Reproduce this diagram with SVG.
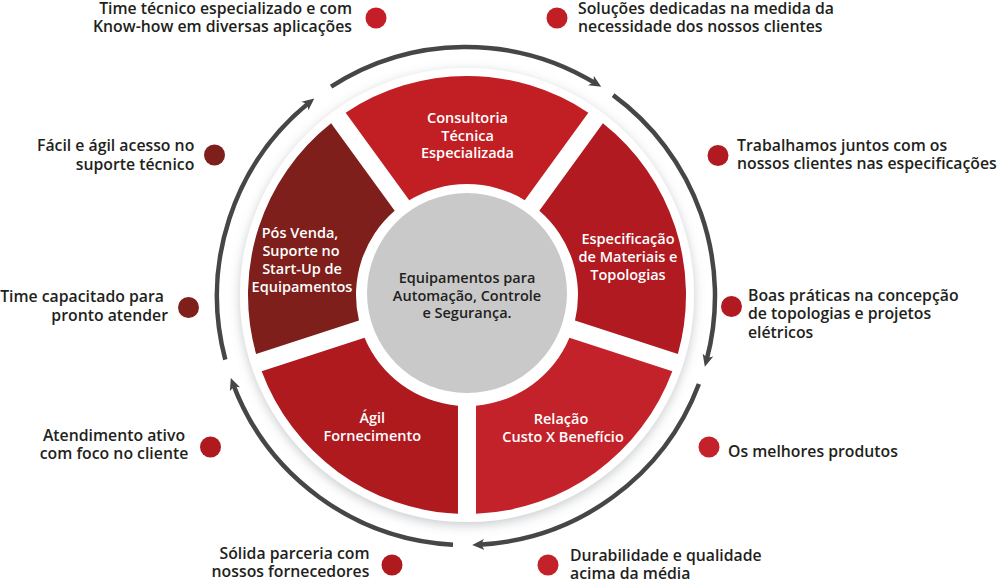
<svg xmlns="http://www.w3.org/2000/svg" xmlns:xlink="http://www.w3.org/1999/xlink" width="998" height="581" viewBox="0 0 998 581">
<style>
.lbl{font-family:"Open Sans","Liberation Sans",sans-serif;font-size:15.8px;font-weight:600;fill:#231f20}
.seg{font-family:"Open Sans","Liberation Sans",sans-serif;font-size:14.5px;font-weight:600;fill:#ffffff;text-anchor:middle}
.ctr{font-family:"Open Sans","Liberation Sans",sans-serif;font-size:14.5px;font-weight:600;fill:#231f20;text-anchor:middle}
.end{text-anchor:end}
.mid{text-anchor:middle}
.arc{fill:none;stroke:#464646;stroke-width:4.5;marker-end:url(#ah)}
</style>
<defs>
<path id="segp" d="M345.67,112.68 A219,219 0 0 1 588.33,112.68 L524.74,200.20 A111,111 0 0 0 409.26,200.20 Z"/>
<marker id="ah" markerUnits="userSpaceOnUse" viewBox="0 0 12 12" refX="6" refY="6" markerWidth="12" markerHeight="12" orient="auto">
<path d="M0,0.5 L12,6 L0,11.5 L3,6 Z" fill="#464646"/>
</marker>
<filter id="sh" x="-20%" y="-20%" width="140%" height="140%">
<feGaussianBlur in="SourceAlpha" stdDeviation="5.5"/>
<feOffset dy="3" result="b"/>
<feFlood flood-color="#7a8088" flood-opacity="0.42"/>
<feComposite in2="b" operator="in"/>
<feMerge><feMergeNode/><feMergeNode in="SourceGraphic"/></feMerge>
</filter>
</defs>
<rect width="998" height="581" fill="#ffffff"/>
<circle cx="467" cy="295" r="227" fill="#ffffff" filter="url(#sh)"/>

<g id="connectors">
<path class="arc" d="M331.1,86.7 A249,249 0 0 1 596.1,83.7"/>
<path class="arc" d="M613.1,95.1 A249,249 0 0 1 706.4,360.9"/>
<path class="arc" d="M698.9,384.0 A249,249 0 0 1 478.2,544.7"/>
<path class="arc" d="M453.0,544.7 A249,249 0 0 1 232.9,383.6"/>
<path class="arc" d="M225.3,359.6 A249,249 0 0 1 309.6,102.2"/>
</g>

<g id="consultoria">
<use xlink:href="#segp" fill="#c11f24"/>
<text class="seg" x="467.5" y="123.3">Consultoria</text>
<text class="seg" x="467.5" y="141">Técnica</text>
<text class="seg" x="467.5" y="158">Especializada</text>
</g>
<g id="especificacao">
<use xlink:href="#segp" fill="#b01a20" transform="rotate(72 467 295)"/>
<text class="seg" x="628" y="244.3">Especificação</text>
<text class="seg" x="628" y="262">de Materiais e</text>
<text class="seg" x="628" y="280">Topologias</text>
</g>
<g id="relacao">
<use xlink:href="#segp" fill="#c3222a" transform="rotate(144 467 295)"/>
<text class="seg" x="561" y="424">Relação</text>
<text class="seg" x="563" y="441.5">Custo X Benefício</text>
</g>
<g id="agil">
<use xlink:href="#segp" fill="#af1a1f" transform="rotate(216 467 295)"/>
<text class="seg" x="372.3" y="423.3">Ágil</text>
<text class="seg" x="372.3" y="441">Fornecimento</text>
</g>
<g id="posvenda">
<use xlink:href="#segp" fill="#7e1f1c" transform="rotate(288 467 295)"/>
<text class="seg" x="300" y="238">Pós Venda,</text>
<text class="seg" x="301" y="256">Suporte no</text>
<text class="seg" x="302" y="274">Start-Up de</text>
<text class="seg" x="302" y="292">Equipamentos</text>
</g>
<g id="centro">
<circle cx="467" cy="293" r="100" fill="#c9c9c9"/>
<text class="ctr" x="467" y="283.3">Equipamentos para</text>
<text class="ctr" x="467" y="301">Automação, Controle</text>
<text class="ctr" x="467" y="318.3">e Segurança.</text>
</g>

<g id="item-time-tecnico">
<circle cx="376" cy="18" r="10.5" fill="#c41f26"/>
<text class="lbl end" x="352" y="13.8">Time técnico especializado e com</text>
<text class="lbl end" x="352" y="32.3">Know-how em diversas aplicações</text>
</g>
<g id="item-solucoes">
<circle cx="557" cy="18" r="10.5" fill="#c11f24"/>
<text class="lbl" x="578" y="13.8">Soluções dedicadas na medida da</text>
<text class="lbl" x="578" y="32.3">necessidade dos nossos clientes</text>
</g>
<g id="item-trabalhamos">
<circle cx="718" cy="155.5" r="10.5" fill="#b01a20"/>
<text class="lbl" x="737" y="150.7">Trabalhamos juntos com os</text>
<text class="lbl" x="737" y="168.8">nossos clientes nas especificações</text>
</g>
<g id="item-boas-praticas">
<circle cx="731.5" cy="306.5" r="10.5" fill="#b01a20"/>
<text class="lbl" x="748" y="301">Boas práticas na concepção</text>
<text class="lbl" x="748" y="319.3">de topologias e projetos</text>
<text class="lbl" x="748" y="337.7">elétricos</text>
</g>
<g id="item-melhores">
<circle cx="709" cy="447" r="10.5" fill="#c3222a"/>
<text class="lbl" x="728" y="456.7">Os melhores produtos</text>
</g>
<g id="item-durabilidade">
<circle cx="548" cy="565" r="10.5" fill="#c3222a"/>
<text class="lbl" x="570" y="561">Durabilidade e qualidade</text>
<text class="lbl" x="570" y="579">acima da média</text>
</g>
<g id="item-solida">
<circle cx="392" cy="565" r="10.5" fill="#af1a1f"/>
<text class="lbl mid" x="294.5" y="559">Sólida parceria com</text>
<text class="lbl mid" x="290.5" y="577">nossos fornecedores</text>
</g>
<g id="item-atendimento">
<circle cx="210.5" cy="447" r="10.5" fill="#af1a1f"/>
<text class="lbl mid" x="114" y="440.7">Atendimento ativo</text>
<text class="lbl mid" x="114" y="459.3">com foco no cliente</text>
</g>
<g id="item-time-capacitado">
<circle cx="188.5" cy="307.5" r="10.5" fill="#7e1f1c"/>
<text class="lbl end" x="164" y="301.7">Time capacitado para</text>
<text class="lbl end" x="168" y="320.5">pronto atender</text>
</g>
<g id="item-facil">
<circle cx="214.5" cy="155" r="10.5" fill="#7e1f1c"/>
<text class="lbl end" x="194.3" y="151">Fácil e ágil acesso no</text>
<text class="lbl end" x="194.3" y="169.5">suporte técnico</text>
</g>
</svg>
